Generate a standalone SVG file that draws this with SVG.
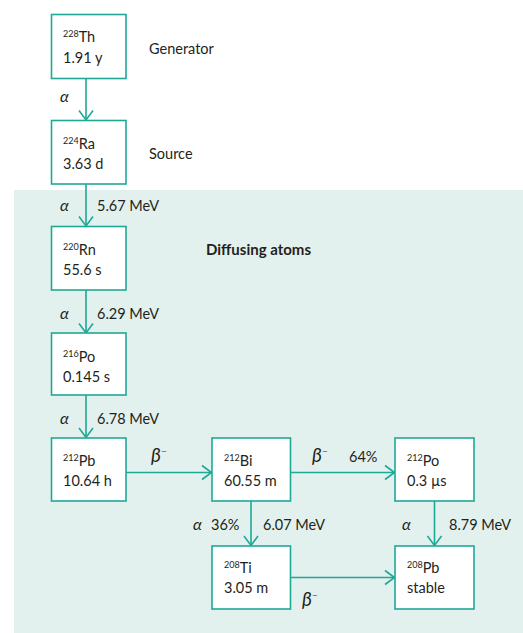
<svg xmlns="http://www.w3.org/2000/svg" width="523" height="633" viewBox="0 0 523 633">
<defs>
<style>
.bg{fill:#e3f1ee}
.box{fill:#fff;stroke:#1ea896;stroke-width:1.6}
.ln{fill:none;stroke:#1ea896;stroke-width:1.6;marker-end:url(#ah)}
text{font-family:Lato,"Liberation Sans",sans-serif;fill:#231f20;font-size:14.5px}
.sup{font-size:9px}
.lab{font-size:14.5px}
.b{font-weight:bold;font-size:15px}
.al{font-style:italic;font-size:16px}
.be{font-style:italic;font-size:19px}
.mi{font-size:10px}
</style>
<marker id="ah" markerUnits="userSpaceOnUse" markerWidth="14" markerHeight="18" viewBox="0 0 14 18" refX="11" refY="9" orient="auto">
<path d="M1.5,2 L11,9 L1.5,16" fill="none" stroke="#1ea896" stroke-width="1.6"/>
</marker>
</defs>
<rect class="bg" x="14" y="190" width="509" height="443"/>
<g id="connectors">
<line class="ln" x1="86" y1="79" x2="86" y2="120"/>
<line class="ln" x1="86" y1="184" x2="86" y2="226"/>
<line class="ln" x1="86" y1="290" x2="86" y2="333"/>
<line class="ln" x1="86" y1="395" x2="86" y2="437.5"/>
<line class="ln" x1="126" y1="472.5" x2="211.5" y2="472.5"/>
<line class="ln" x1="291" y1="472.5" x2="394.5" y2="472.5"/>
<line class="ln" x1="251" y1="501" x2="251" y2="545.5"/>
<line class="ln" x1="434.5" y1="501" x2="434.5" y2="545.5"/>
<line class="ln" x1="291" y1="577.5" x2="394.5" y2="577.5"/>
</g>
<g id="labels">
<text x="149" y="54">Generator</text>
<text x="149" y="159">Source</text>
<text class="b" x="206" y="255">Diffusing atoms</text>
<text class="al" x="60" y="102">α</text>
<text class="al" x="60" y="211">α</text>
<text x="97" y="211">5.67 MeV</text>
<text class="al" x="60" y="319">α</text>
<text x="97" y="319">6.29 MeV</text>
<text class="al" x="60" y="424">α</text>
<text x="97" y="424">6.78 MeV</text>
<text class="be" x="151" y="462">β<tspan class="mi" dy="-7">−</tspan></text>
<text class="be" x="312" y="462">β<tspan class="mi" dy="-7">−</tspan></text>
<text x="349" y="462">64%</text>
<text class="al" x="193" y="530">α</text>
<text x="211" y="530">36%</text>
<text x="263" y="530">6.07 MeV</text>
<text class="al" x="402" y="530">α</text>
<text x="449" y="530">8.79 MeV</text>
<text class="be" x="302" y="606">β<tspan class="mi" dy="-7">−</tspan></text>
</g>
<g id="th228">
<rect class="box" x="51.5" y="14.5" width="74.5" height="64"/>
<text x="63" y="42"><tspan class="sup" dy="-5">228</tspan><tspan dy="5">Th</tspan></text>
<text x="63" y="63">1.91 y</text>
</g>
<g id="ra224">
<rect class="box" x="51.5" y="120.5" width="74.5" height="63.5"/>
<text x="63" y="149"><tspan class="sup" dy="-5">224</tspan><tspan dy="5">Ra</tspan></text>
<text x="63" y="169">3.63 d</text>
</g>
<g id="rn220">
<rect class="box" x="51.5" y="226.5" width="74.5" height="63.5"/>
<text x="63" y="255"><tspan class="sup" dy="-5">220</tspan><tspan dy="5">Rn</tspan></text>
<text x="63" y="275">55.6 s</text>
</g>
<g id="po216">
<rect class="box" x="51.5" y="333" width="74.5" height="62"/>
<text x="63" y="362"><tspan class="sup" dy="-5">216</tspan><tspan dy="5">Po</tspan></text>
<text x="63" y="382">0.145 s</text>
</g>
<g id="pb212">
<rect class="box" x="51.5" y="438" width="74.5" height="63"/>
<text x="63" y="466"><tspan class="sup" dy="-5">212</tspan><tspan dy="5">Pb</tspan></text>
<text x="63" y="486">10.64 h</text>
</g>
<g id="bi212">
<rect class="box" x="212" y="438" width="78.5" height="63"/>
<text x="224" y="466"><tspan class="sup" dy="-5">212</tspan><tspan dy="5">Bi</tspan></text>
<text x="224" y="486">60.55 m</text>
</g>
<g id="po212">
<rect class="box" x="395" y="438" width="79" height="63"/>
<text x="407" y="466"><tspan class="sup" dy="-5">212</tspan><tspan dy="5">Po</tspan></text>
<text x="407" y="486">0.3 µs</text>
</g>
<g id="ti208">
<rect class="box" x="212" y="546" width="78.5" height="63"/>
<text x="224" y="573"><tspan class="sup" dy="-5">208</tspan><tspan dy="5">Ti</tspan></text>
<text x="224" y="593">3.05 m</text>
</g>
<g id="pb208">
<rect class="box" x="395" y="546" width="79" height="63"/>
<text x="407" y="573"><tspan class="sup" dy="-5">208</tspan><tspan dy="5">Pb</tspan></text>
<text x="407" y="593">stable</text>
</g>
</svg>
